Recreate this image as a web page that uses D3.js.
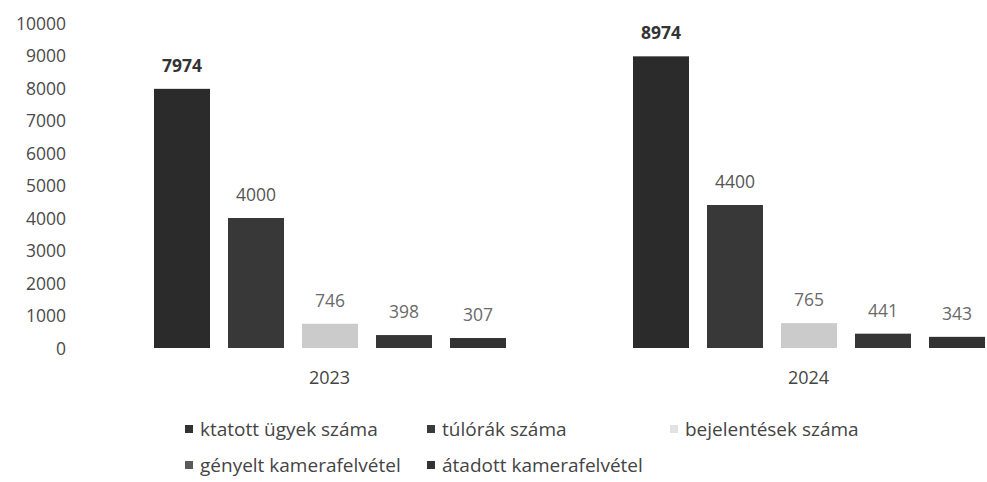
<!DOCTYPE html>
<html>
<head>
<meta charset="utf-8">
<script src="https://cdn.jsdelivr.net/npm/d3@7"></script>
<style>
  html, body { margin: 0; padding: 0; background: #ffffff; }
  svg { display: block; font-family: "Open Sans", sans-serif; }
</style>
</head>
<body>
<svg id="chart" width="987" height="482"></svg>
<script>
const years = ["2023", "2024"];
const seriesNames = ["ktatott ügyek száma", "túlórák száma", "bejelentések száma", "gényelt kamerafelvétel", "átadott kamerafelvétel"];
const values2023 = [7974, 4000, 746, 398, 307];
const values2024 = [8974, 4400, 765, 441, 343];
const yTicks = [0, 1000, 2000, 3000, 4000, 5000, 6000, 7000, 8000, 9000, 10000];
const barColors = ["#2b2b2b", "#383838", "#cbcbcb", "#363636", "#323232"];
const legendColors = ["#333333", "#3a3a3a", "#e2e2e2", "#5a5a5a", "#333333"];

const valuesByYear = { "2023": values2023, "2024": values2024 };

const svg = d3.select("#chart");

const y = d3.scaleLinear().domain([0, 10000]).range([348, 23]);
const x0 = d3.scaleBand().domain(years).range([90, 1048]).padding(0);
const x1 = d3.scaleBand().domain(seriesNames).range([64, 416]).paddingInner(18 / 74).paddingOuter(0);

// Y axis labels
const yAxis = d3.axisLeft(y).tickValues(yTicks).tickSize(0).tickPadding(0).tickFormat(d3.format("d"));
const yg = svg.append("g").attr("transform", "translate(66,0)").call(yAxis);
yg.select(".domain").remove();
yg.selectAll("text")
  .attr("fill", "#4a4a4a")
  .style("font-size", "17.5px")
  .style("font-family", "'Open Sans', sans-serif")
  .attr("dy", "0.36em");

// Bars
const groups = svg.selectAll("g.year")
  .data(years)
  .enter().append("g")
  .attr("class", "year")
  .attr("transform", d => `translate(${x0(d)},0)`);

groups.selectAll("rect")
  .data(yr => valuesByYear[yr].map((v, i) => ({ name: seriesNames[i], value: v, i })))
  .enter().append("rect")
  .attr("x", d => x1(d.name))
  .attr("y", d => y(d.value))
  .attr("width", x1.bandwidth())
  .attr("height", d => y(0) - y(d.value))
  .attr("fill", d => barColors[d.i]);

groups.selectAll("text.val")
  .data(yr => valuesByYear[yr].map((v, i) => ({ name: seriesNames[i], value: v, i })))
  .enter().append("text")
  .attr("class", "val")
  .attr("x", d => x1(d.name) + x1.bandwidth() / 2)
  .attr("y", d => y(d.value) - 17)
  .attr("text-anchor", "middle")
  .attr("fill", d => d.i === 0 ? "#333333" : (d.i === 1 ? "#555555" : "#6a6a6a"))
  .style("font-weight", d => d.i === 0 ? "700" : "400")
  .style("font-size", "17.5px")
  .text(d => d.value);

// X axis (year labels)
const xAxis = d3.axisBottom(x0).tickSize(0).tickPadding(0);
const xg = svg.append("g").attr("transform", "translate(0,378)").call(xAxis);
xg.select(".domain").remove();
xg.selectAll("text")
  .attr("fill", "#444444")
  .style("font-size", "18px")
  .style("font-family", "'Open Sans', sans-serif")
  .attr("y", 0)
  .attr("dy", "0.36em");

// Legend (3-column grid)
const legendPos = [
  { x: 185, y: 429 },
  { x: 427, y: 429 },
  { x: 670, y: 429 },
  { x: 185, y: 465 },
  { x: 427, y: 465 }
];
const legend = svg.selectAll("g.legend")
  .data(seriesNames)
  .enter().append("g")
  .attr("class", "legend")
  .attr("transform", (d, i) => `translate(${legendPos[i].x},${legendPos[i].y})`);
legend.append("rect")
  .attr("x", 0).attr("y", -4).attr("width", 8).attr("height", 8)
  .attr("fill", (d, i) => legendColors[i]);
legend.append("text")
  .attr("x", 15)
  .attr("y", 0)
  .attr("dy", "0.35em")
  .attr("fill", "#444444")
  .style("font-size", "19px")
  .text(d => d);
</script>
</body>
</html>
